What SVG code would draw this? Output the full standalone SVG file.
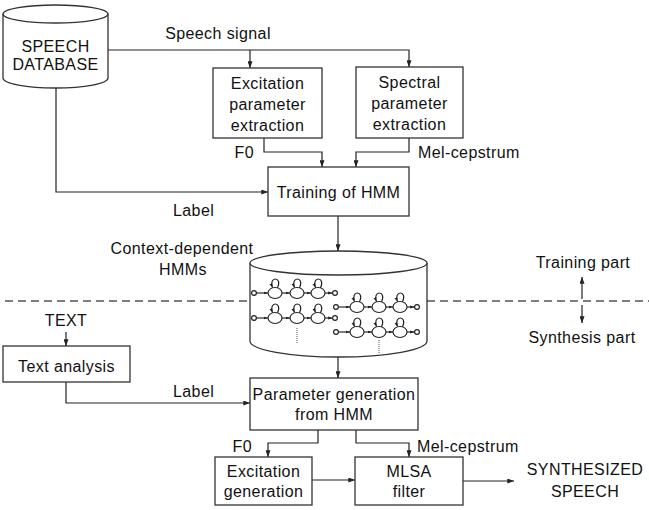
<svg xmlns="http://www.w3.org/2000/svg" width="649" height="510" viewBox="0 0 649 510">
<defs>
<style>
text{font-family:"Liberation Sans",Arial,Helvetica,sans-serif;font-size:16px;letter-spacing:0.4px;fill:#111}
.c{text-anchor:middle}
.e{text-anchor:end}
.box{fill:#fff;stroke:#333;stroke-width:1.3}
.ln{fill:none;stroke:#222;stroke-width:1.2}
.arr{fill:none;stroke:#222;stroke-width:1.2;marker-end:url(#ar)}
.dash{fill:none;stroke:#555;stroke-width:1.5;stroke-dasharray:8 5}
.h{fill:none;stroke:#222;stroke-width:1.15}
.ha{fill:none;stroke:#222;stroke-width:1.15;marker-end:url(#sm)}
.dot{fill:none;stroke:#555;stroke-width:1;stroke-dasharray:1 1}
</style>
<marker id="ar" viewBox="0 0 8 6" refX="8" refY="3" markerWidth="7" markerHeight="5" markerUnits="userSpaceOnUse" orient="auto"><path d="M0,0 L8,3 L0,6 z" fill="#222"/></marker>
<marker id="sm" viewBox="0 0 6 4" refX="6" refY="2" markerWidth="4.5" markerHeight="3.5" markerUnits="userSpaceOnUse" orient="auto"><path d="M0,0 L6,2 L0,4 z" fill="#222"/></marker>
<g id="chain">
<circle cx="0" cy="0" r="2.4" class="h"/>
<line x1="2.4" y1="0" x2="14" y2="0" class="ha"/>
<ellipse cx="21" cy="0" rx="7" ry="5.5" class="h"/>
<path d="M23.5,-5 C29,-17 14,-17 18.5,-5.2" class="ha"/>
<line x1="28" y1="0" x2="36" y2="0" class="ha"/>
<ellipse cx="43" cy="0" rx="7" ry="5.5" class="h"/>
<path d="M45.5,-5 C51,-17 36,-17 40.5,-5.2" class="ha"/>
<line x1="50" y1="0" x2="57" y2="0" class="ha"/>
<ellipse cx="64" cy="0" rx="7" ry="5.5" class="h"/>
<path d="M66.5,-5 C72,-17 57,-17 61.5,-5.2" class="ha"/>
<line x1="71" y1="0" x2="78.6" y2="0" class="ha"/>
<circle cx="81" cy="0" r="2.4" class="h"/>
</g>
</defs>
<rect width="649" height="510" fill="#fff"/>

<g id="connectors">
<path d="M108,50 H409 V67" class="arr"/>
<path d="M250,50 V68" class="arr"/>
<path d="M264,138 V152 H322 V167" class="arr"/>
<path d="M409,138 V152 H356 V167" class="arr"/>
<path d="M56,88 V192 H268" class="arr"/>
<path d="M338,216 V251" class="arr"/>
<path d="M338,357 V378" class="arr"/>
<path d="M66,332 V346" class="arr"/>
<path d="M66,382 V403 H250" class="arr"/>
<path d="M318,430 V443 H268 V457" class="arr"/>
<path d="M356,430 V443 H409 V457" class="arr"/>
<path d="M312,480 H355" class="arr"/>
<path d="M463,481 H514" class="arr"/>
<path d="M5,301 H250" class="dash"/>
<path d="M427,301 H649" class="dash"/>
<path d="M582,299 V277" class="arr"/>
<path d="M582,305 V323" class="arr"/>
</g>

<g id="speech-database">
<path d="M3,14 V78 A52.5,10 0 0 0 108,78 V14" class="box"/>
<ellipse cx="55.5" cy="14" rx="52.5" ry="9" class="box"/>
<text x="55.5" y="52" class="c">SPEECH</text>
<text x="55.5" y="70" class="c">DATABASE</text>
</g>

<g id="excitation-extraction">
<rect x="213" y="68" width="109" height="70" class="box"/>
<text x="267.5" y="89" class="c">Excitation</text>
<text x="267.5" y="110" class="c">parameter</text>
<text x="267.5" y="131" class="c">extraction</text>
</g>

<g id="spectral-extraction">
<rect x="356" y="67" width="107" height="71" class="box"/>
<text x="409.5" y="88" class="c">Spectral</text>
<text x="409.5" y="109" class="c">parameter</text>
<text x="409.5" y="130" class="c">extraction</text>
</g>

<g id="training">
<rect x="268" y="167" width="141" height="49" class="box"/>
<text x="338.5" y="198" class="c">Training of HMM</text>
</g>

<g id="hmms">
<path d="M250,263 V341 A88.5,16 0 0 0 427,341 V263" class="box"/>
<ellipse cx="338.5" cy="263" rx="88.5" ry="12" class="box"/>
<use href="#chain" x="254" y="293"/>
<use href="#chain" x="254" y="318"/>
<use href="#chain" x="336" y="307"/>
<use href="#chain" x="336" y="332"/>
<line x1="297" y1="328" x2="297" y2="343" class="dot"/>
<line x1="379" y1="340" x2="379" y2="354" class="dot"/>
</g>

<g id="text-analysis">
<rect x="3" y="346" width="127" height="36" class="box"/>
<text x="66.5" y="372" class="c">Text analysis</text>
</g>

<g id="parameter-generation">
<rect x="250" y="378" width="168" height="52" class="box"/>
<text x="334" y="400" class="c">Parameter generation</text>
<text x="334" y="420" class="c">from HMM</text>
</g>

<g id="excitation-generation">
<rect x="215" y="457" width="97" height="48" class="box"/>
<text x="263.5" y="477" class="c">Excitation</text>
<text x="263.5" y="497" class="c">generation</text>
</g>

<g id="mlsa-filter">
<rect x="355" y="457" width="108" height="48" class="box"/>
<text x="409" y="477" class="c">MLSA</text>
<text x="409" y="497" class="c">filter</text>
</g>

<g id="labels">
<text x="218" y="39" class="c">Speech signal</text>
<text x="254" y="158" class="e">F0</text>
<text x="418" y="158">Mel-cepstrum</text>
<text x="173" y="216">Label</text>
<text x="182" y="254" class="c">Context-dependent</text>
<text x="183" y="275" class="c">HMMs</text>
<text x="583" y="268" class="c">Training part</text>
<text x="582" y="343" class="c">Synthesis part</text>
<text x="66" y="326" class="c">TEXT</text>
<text x="173" y="397">Label</text>
<text x="252" y="452" class="e">F0</text>
<text x="417" y="452">Mel-cepstrum</text>
<text x="585" y="475" class="c">SYNTHESIZED</text>
<text x="585" y="497" class="c">SPEECH</text>
</g>
</svg>
